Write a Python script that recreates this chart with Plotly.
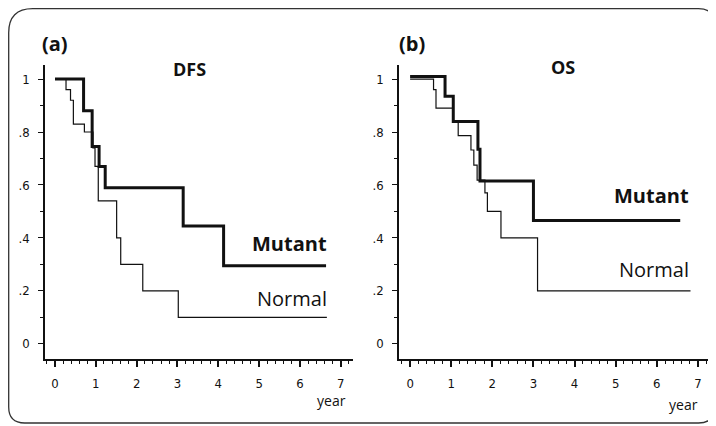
import plotly.graph_objects as go
from plotly.subplots import make_subplots

# ---- data ----
dfs_mutant_t = [0, 0.70, 0.91, 1.08, 1.23, 3.14, 4.13, 6.64]
dfs_mutant_s = [1.0, 0.88, 0.745, 0.67, 0.59, 0.445, 0.295, 0.295]
dfs_normal_t = [0, 0.27, 0.38, 0.45, 0.72, 0.93, 0.98, 1.06, 1.51, 1.61, 2.15, 3.02, 6.66]
dfs_normal_s = [1.0, 0.96, 0.92, 0.83, 0.80, 0.74, 0.67, 0.54, 0.40, 0.30, 0.20, 0.10, 0.10]

os_mutant_t = [0, 0.85, 1.05, 1.65, 1.70, 3.00, 6.57]
os_mutant_s = [1.01, 0.935, 0.84, 0.735, 0.615, 0.466, 0.466]
os_normal_t = [0, 0.57, 0.63, 1.05, 1.17, 1.48, 1.55, 1.63, 1.82, 1.88, 2.21, 3.10, 6.82]
os_normal_s = [1.0, 0.96, 0.89, 0.84, 0.786, 0.732, 0.675, 0.618, 0.57, 0.50, 0.40, 0.20, 0.20]

x_ticks = [0, 1, 2, 3, 4, 5, 6, 7]
y_tickvals = [0, 0.2, 0.4, 0.6, 0.8, 1.0]
y_ticktext = ["0", ".2", ".4", ".6", ".8", "1"]

# the page body has an 8px margin, so the figure is drawn at (8, 8)
OFF = 8
W, H = 716 - OFF, 426 - OFF
def px(x):
    return (x - OFF) / W
def py(y):
    return 1 - (y - OFF) / H

fig = make_subplots(rows=1, cols=2)

INK = "#111111"
panels = [
    (1, dfs_mutant_t, dfs_mutant_s, dfs_normal_t, dfs_normal_s),
    (2, os_mutant_t, os_mutant_s, os_normal_t, os_normal_s),
]
for col, mt, ms, nt, ns in panels:
    fig.add_trace(go.Scatter(x=nt, y=ns, mode="lines", line=dict(shape="hv", color=INK, width=1.2),
                             showlegend=False, hoverinfo="skip"), row=1, col=col)
    fig.add_trace(go.Scatter(x=mt, y=ms, mode="lines", line=dict(shape="hv", color=INK, width=3),
                             showlegend=False, hoverinfo="skip"), row=1, col=col)

tickfont = dict(family="Liberation Sans Narrow, DejaVu Sans Condensed, Arial", size=13, color=INK)
xcommon = dict(showgrid=False, zeroline=False, showline=True, linecolor=INK, linewidth=1.5,
               tickvals=x_ticks, ticks="outside", ticklen=6, tickwidth=1.5, tickcolor=INK,
               minor=dict(dtick=0.2, ticks="outside", ticklen=3, tickwidth=1, tickcolor=INK),
               tickfont=tickfont, ticklabelstandoff=6, fixedrange=True)
ycommon = dict(showgrid=False, zeroline=False, showline=True, linecolor=INK, linewidth=1.5,
               tickvals=y_tickvals, ticktext=y_ticktext, ticks="outside", ticklen=5, tickwidth=1.2,
               tickcolor=INK,
               minor=dict(dtick=0.1, ticks="outside", ticklen=3, tickwidth=1, tickcolor=INK),
               tickfont=tickfont, ticklabelstandoff=6, range=[-0.057, 1.053], fixedrange=True)

fig.update_xaxes(**xcommon)
fig.update_yaxes(**ycommon)
fig.update_xaxes(range=[-0.245, 7.3], domain=[px(45), px(353)], row=1, col=1)
fig.update_xaxes(range=[-0.27, 7.27], domain=[px(399), px(709)], row=1, col=2)
fig.update_yaxes(domain=[py(359), py(65)])

ann = []
def label(text, x, y, size, bold=False, xanchor="left"):
    ann.append(dict(text=("<b>%s</b>" % text) if bold else text, x=px(x), y=py(y),
                    xref="paper", yref="paper", xanchor=xanchor, yanchor="middle",
                    showarrow=False,
                    font=dict(family="Open Sans, Lato, Arial", size=size, color=INK)))

label("(a)", 40, 43, 20, bold=True)
label("DFS", 171, 69, 18, bold=True)
label("(b)", 397, 43, 20, bold=True)
label("OS", 549, 67, 18, bold=True)
label("Mutant", 329, 243, 20, bold=True, xanchor="right")
label("Normal", 329, 298, 20, xanchor="right")
label("Mutant", 691, 195, 20, bold=True, xanchor="right")
label("Normal", 691, 269, 20, xanchor="right")
label("year", 348, 400, 14, xanchor="right")
label("year", 700, 404, 14, xanchor="right")

# rounded frame around both panels (paper coordinates)
L, R, T, B = px(8.7), px(714.5), py(8.7), py(423)
def cx(r):
    return r / W
def cy(r):
    return r / H
rtl, rtr, rbl, rbr = 24, 16, 16, 16
path = (f"M {L+cx(rtl)},{T} L {R-cx(rtr)},{T} Q {R},{T} {R},{T-cy(rtr)} "
        f"L {R},{B+cy(rbr)} Q {R},{B} {R-cx(rbr)},{B} L {L+cx(rbl)},{B} "
        f"Q {L},{B} {L},{B+cy(rbl)} L {L},{T-cy(rtl)} Q {L},{T} {L+cx(rtl)},{T} Z")
shapes = [dict(type="path", path=path, xref="paper", yref="paper",
               line=dict(color="#333333", width=1.3))]

fig.update_layout(width=W, height=H, margin=dict(l=0, r=0, t=0, b=0),
                  paper_bgcolor="white", plot_bgcolor="white",
                  annotations=ann, shapes=shapes, showlegend=False)

fig.write_html("out.html")
